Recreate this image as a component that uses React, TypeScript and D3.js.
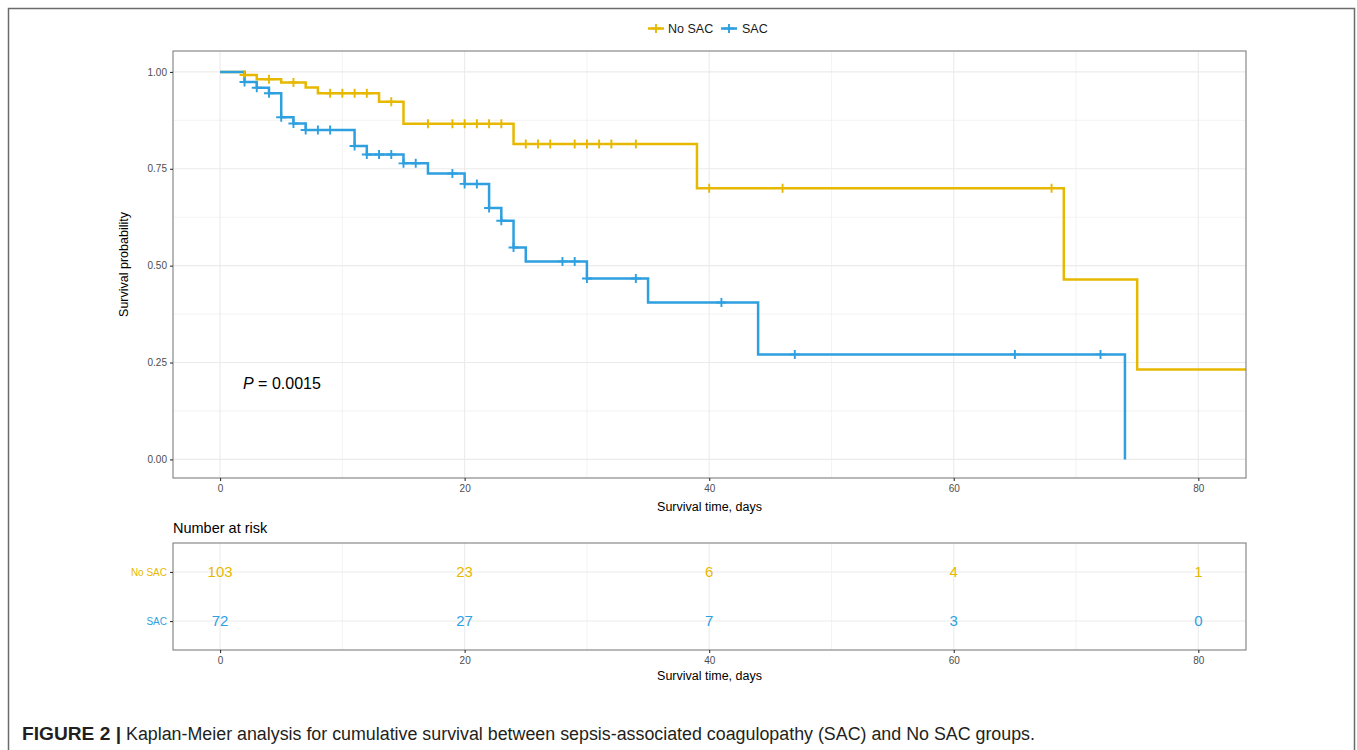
import React, { useEffect, useRef } from 'react';
import * as d3 from 'd3';

// Kaplan-Meier step values
const noSacTimes = [0, 2, 3, 5, 7, 8, 13, 15, 24, 39, 69, 75, 86];
const noSacSurv = [1, 0.992, 0.981, 0.973, 0.96, 0.945, 0.923, 0.866, 0.814, 0.7, 0.464, 0.232, 0.232];
const noSacCensor = [2, 4, 6, 9, 10, 11, 12, 14, 17, 19, 20, 21, 22, 23, 25, 26, 27, 29, 30, 31, 32, 34, 40, 46, 68];

const sacTimes = [0, 2, 3, 4, 5, 6, 7, 11, 12, 15, 17, 20, 22, 23, 24, 25, 30, 35, 44, 74];
const sacSurv = [1, 0.974, 0.959, 0.945, 0.883, 0.867, 0.85, 0.809, 0.787, 0.764, 0.738, 0.711, 0.649, 0.616, 0.547, 0.511, 0.467, 0.405, 0.271, 0];
const sacCensor = [2, 3, 4, 5, 6, 7, 8, 9, 11, 12, 13, 14, 15, 16, 19, 20, 21, 22, 23, 24, 28, 29, 30, 34, 41, 47, 65, 72];

const groups = ['No SAC', 'SAC'];
const groupColors = ['#E7B800', '#2E9FDF'];

const xTicks = [0, 20, 40, 60, 80];
const xMinor = [10, 30, 50, 70];
const yTicks = [0, 0.25, 0.5, 0.75, 1];
const yMinor = [0.125, 0.375, 0.625, 0.875];

const riskTimes = [0, 20, 40, 60, 80];
const riskNoSac = [103, 23, 6, 4, 1];
const riskSac = [72, 27, 7, 3, 0];

const FONT = '"Liberation Sans", Arial, sans-serif';
const CROSS = 'M-5,0H5M0,-4.5V4.5';

const survAt = (times: number[], surv: number[], t: number) => {
  let s = surv[0];
  for (let i = 0; i < times.length; i++) if (times[i] <= t) s = surv[i];
  return s;
};

const App: React.FC = () => {
  const svgRef = useRef<SVGSVGElement>(null);

  useEffect(() => {
    if (!svgRef.current) return;
    const svg = d3.select(svgRef.current);
    svg.selectAll('*').remove();

    const panel = { left: 173, right: 1246, top: 51, bottom: 478 };
    const risk = { top: 543, bottom: 650 };

    const x = d3.scaleLinear().domain([-3.85, 83.9]).range([panel.left, panel.right]);
    const y = d3.scaleLinear().domain([-0.048, 1.054]).range([panel.bottom, panel.top]);
    const yRisk = d3.scalePoint<string>().domain(groups).range([risk.top, risk.bottom]).padding(0.59);

    // outer figure frame
    svg.append('rect')
      .attr('x', 8.5).attr('y', 8.5)
      .attr('width', 1346).attr('height', 800)
      .attr('fill', 'none').attr('stroke', '#6b6b6b').attr('stroke-width', 1.5);

    // ---------- main panel ----------
    const grid = svg.append('g');
    xMinor.forEach(t => grid.append('line')
      .attr('x1', x(t)).attr('x2', x(t)).attr('y1', panel.top).attr('y2', panel.bottom)
      .attr('stroke', '#ebebeb').attr('stroke-width', 0.6));
    yMinor.forEach(v => grid.append('line')
      .attr('x1', panel.left).attr('x2', panel.right).attr('y1', y(v)).attr('y2', y(v))
      .attr('stroke', '#ebebeb').attr('stroke-width', 0.6));
    xTicks.forEach(t => grid.append('line')
      .attr('x1', x(t)).attr('x2', x(t)).attr('y1', panel.top).attr('y2', panel.bottom)
      .attr('stroke', '#ebebeb').attr('stroke-width', 1.1));
    yTicks.forEach(v => grid.append('line')
      .attr('x1', panel.left).attr('x2', panel.right).attr('y1', y(v)).attr('y2', y(v))
      .attr('stroke', '#ebebeb').attr('stroke-width', 1.1));

    svg.append('clipPath').attr('id', 'panel-clip')
      .append('rect')
      .attr('x', panel.left).attr('y', panel.top)
      .attr('width', panel.right - panel.left).attr('height', panel.bottom - panel.top);

    const line = d3.line<[number, number]>()
      .x(d => x(d[0]))
      .y(d => y(d[1]))
      .curve(d3.curveStepAfter);

    const curves = [
      { times: noSacTimes, surv: noSacSurv, censor: noSacCensor, color: groupColors[0] },
      { times: sacTimes, surv: sacSurv, censor: sacCensor, color: groupColors[1] },
    ];

    const plot = svg.append('g').attr('clip-path', 'url(#panel-clip)');
    curves.forEach(c => {
      plot.append('path')
        .datum(c.times.map((t, i) => [t, c.surv[i]] as [number, number]))
        .attr('d', line)
        .attr('fill', 'none')
        .attr('stroke', c.color)
        .attr('stroke-width', 2.5);
    });
    curves.forEach(c => {
      plot.selectAll(null)
        .data(c.censor)
        .enter()
        .append('path')
        .attr('transform', t => `translate(${x(t)},${y(survAt(c.times, c.surv, t))})`)
        .attr('d', CROSS)
        .attr('stroke', c.color)
        .attr('stroke-width', 1.9)
        .attr('fill', 'none');
    });

    svg.append('rect')
      .attr('x', panel.left).attr('y', panel.top)
      .attr('width', panel.right - panel.left).attr('height', panel.bottom - panel.top)
      .attr('fill', 'none').attr('stroke', '#7f7f7f').attr('stroke-width', 1.1);

    // axes
    const yAxis = svg.append('g').attr('transform', `translate(${panel.left},0)`)
      .call(d3.axisLeft(y).tickValues(yTicks).tickFormat(d3.format('.2f')).tickSize(3).tickPadding(3));
    yAxis.select('.domain').remove();
    const xAxis = svg.append('g').attr('transform', `translate(0,${panel.bottom})`)
      .call(d3.axisBottom(x).tickValues(xTicks).tickSize(3).tickPadding(4));
    xAxis.select('.domain').remove();
    [yAxis, xAxis].forEach(a => {
      a.selectAll('.tick line').attr('stroke', '#333').attr('stroke-width', 1.1);
      a.selectAll('.tick text').attr('fill', '#4d4d4d').attr('font-size', '10px').attr('font-family', FONT);
    });

    svg.append('text')
      .attr('x', (panel.left + panel.right) / 2).attr('y', 511)
      .attr('text-anchor', 'middle').attr('font-family', FONT).attr('font-size', '12.5px').attr('fill', '#000')
      .text('Survival time, days');
    svg.append('text')
      .attr('transform', `translate(128,${(panel.top + panel.bottom) / 2}) rotate(-90)`)
      .attr('text-anchor', 'middle').attr('font-family', FONT).attr('font-size', '12.5px').attr('fill', '#000')
      .text('Survival probability');

    // p-value
    const pText = svg.append('text')
      .attr('x', 243).attr('y', 388.5)
      .attr('font-family', FONT).attr('font-size', '16px').attr('fill', '#000');
    pText.append('tspan').attr('font-style', 'italic').text('P');
    pText.append('tspan').text(' = 0.0015');

    // legend
    const legendItems = [
      { label: groups[0], color: groupColors[0], x0: 648, tx: 668 },
      { label: groups[1], color: groupColors[1], x0: 721, tx: 742 },
    ];
    legendItems.forEach(l => {
      const g = svg.append('g').attr('transform', `translate(${l.x0},28.5)`);
      g.append('line').attr('x1', 0).attr('x2', 16).attr('stroke', l.color).attr('stroke-width', 2.5);
      g.append('path').attr('d', 'M3,0H13M8,-4.5V4.5').attr('stroke', l.color).attr('stroke-width', 1.9);
      svg.append('text')
        .attr('x', l.tx).attr('y', 33)
        .attr('font-family', FONT).attr('font-size', '12.5px').attr('fill', '#1a1a1a')
        .text(l.label);
    });

    // ---------- number at risk table ----------
    svg.append('text')
      .attr('x', panel.left).attr('y', 533)
      .attr('font-family', FONT).attr('font-size', '14.5px').attr('fill', '#000')
      .text('Number at risk');

    const rg = svg.append('g');
    xMinor.forEach(t => rg.append('line')
      .attr('x1', x(t)).attr('x2', x(t)).attr('y1', risk.top).attr('y2', risk.bottom)
      .attr('stroke', '#ebebeb').attr('stroke-width', 0.6));
    xTicks.forEach(t => rg.append('line')
      .attr('x1', x(t)).attr('x2', x(t)).attr('y1', risk.top).attr('y2', risk.bottom)
      .attr('stroke', '#ebebeb').attr('stroke-width', 1.1));
    groups.forEach(gName => rg.append('line')
      .attr('x1', panel.left).attr('x2', panel.right).attr('y1', yRisk(gName)!).attr('y2', yRisk(gName)!)
      .attr('stroke', '#ebebeb').attr('stroke-width', 1.1));

    const riskRows = [riskNoSac, riskSac];
    riskRows.forEach((row, gi) => {
      svg.selectAll(null)
        .data(row)
        .enter()
        .append('text')
        .attr('x', (_, i) => x(riskTimes[i]))
        .attr('y', yRisk(groups[gi])!)
        .attr('dy', '0.36em')
        .attr('text-anchor', 'middle')
        .attr('font-family', FONT).attr('font-size', '15px')
        .attr('fill', groupColors[gi])
        .text(d => d);
    });

    svg.append('rect')
      .attr('x', panel.left).attr('y', risk.top)
      .attr('width', panel.right - panel.left).attr('height', risk.bottom - risk.top)
      .attr('fill', 'none').attr('stroke', '#7f7f7f').attr('stroke-width', 1.1);

    const ryAxis = svg.append('g').attr('transform', `translate(${panel.left},0)`)
      .call(d3.axisLeft(yRisk).tickSize(3).tickPadding(3));
    ryAxis.select('.domain').remove();
    ryAxis.selectAll('.tick line').attr('stroke', '#333').attr('stroke-width', 1.1);
    ryAxis.selectAll<SVGTextElement, string>('.tick text')
      .attr('font-size', '10px').attr('font-family', FONT)
      .attr('fill', d => groupColors[groups.indexOf(d)]);

    const rxAxis = svg.append('g').attr('transform', `translate(0,${risk.bottom})`)
      .call(d3.axisBottom(x).tickValues(riskTimes).tickSize(3).tickPadding(4));
    rxAxis.select('.domain').remove();
    rxAxis.selectAll('.tick line').attr('stroke', '#333').attr('stroke-width', 1.1);
    rxAxis.selectAll('.tick text').attr('fill', '#4d4d4d').attr('font-size', '10px').attr('font-family', FONT);

    svg.append('text')
      .attr('x', (panel.left + panel.right) / 2).attr('y', 680)
      .attr('text-anchor', 'middle').attr('font-family', FONT).attr('font-size', '12.5px').attr('fill', '#000')
      .text('Survival time, days');

    // caption
    const capFont = '"Liberation Sans Narrow", "Liberation Sans", Arial, sans-serif';
    svg.append('text')
      .attr('x', 22).attr('y', 740)
      .attr('font-family', capFont).attr('font-size', '18px').attr('font-weight', 'bold').attr('fill', '#231f20')
      .attr('textLength', 99).attr('lengthAdjust', 'spacingAndGlyphs')
      .text('FIGURE 2 |');
    svg.append('text')
      .attr('x', 126).attr('y', 740)
      .attr('font-family', capFont).attr('font-size', '18px').attr('fill', '#231f20')
      .attr('textLength', 909).attr('lengthAdjust', 'spacingAndGlyphs')
      .text('Kaplan-Meier analysis for cumulative survival between sepsis-associated coagulopathy (SAC) and No SAC groups.');
  }, []);

  return (
    <svg
      ref={svgRef}
      width={1357}
      height={750}
      style={{ position: 'absolute', left: 0, top: 0, background: '#fff' }}
    />
  );
};

export default App;
